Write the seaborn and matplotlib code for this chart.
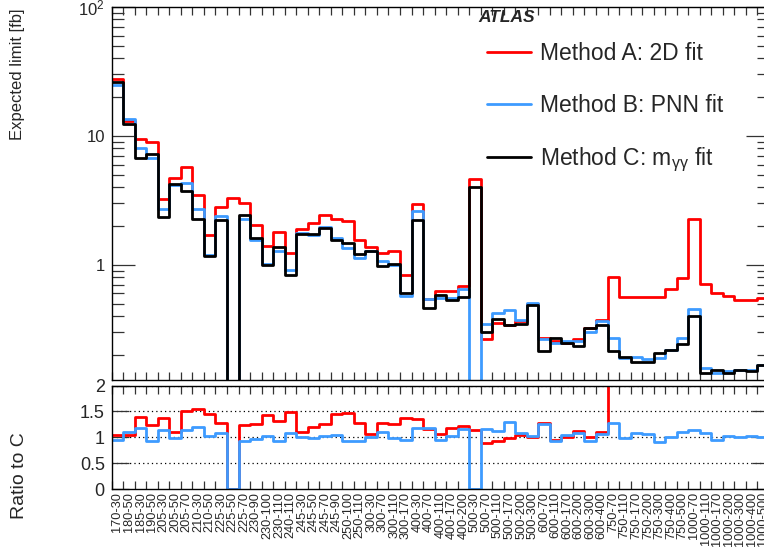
import numpy as np
import pandas as pd
import matplotlib
matplotlib.use("Agg")
import matplotlib.pyplot as plt
from matplotlib.lines import Line2D
import seaborn as sns

# (m_X - m_S) signal mass points, in GeV
mass_points = [
    "170-30", "180-50", "185-30", "190-50", "205-30", "205-50", "205-70",
    "210-30", "210-50", "225-30", "225-50", "225-70", "230-90", "230-100",
    "230-110", "240-110", "245-30", "245-50", "245-70", "245-90", "250-100",
    "250-110", "300-30", "300-70", "300-110", "300-170", "400-30", "400-70",
    "400-110", "400-170", "400-200", "500-30", "500-70", "500-110", "500-170",
    "500-200", "500-300", "600-70", "600-110", "600-170", "600-200", "600-300",
    "600-400", "750-70", "750-110", "750-170", "750-200", "750-300", "750-400",
    "750-500", "1000-70", "1000-110", "1000-170", "1000-200", "1000-300",
    "1000-400", "1000-500",
]

# Expected limits [fb]
limit_2d = [
    27.6, 12.96, 9.48, 8.98, 3.26, 4.72, 5.70, 3.50, 1.69, 2.81, 3.29, 3.02,
    2.03, 1.41, 1.79, 1.24, 1.90, 2.10, 2.42, 2.26, 2.17, 1.55, 1.37, 1.245,
    1.275, 0.828, 2.99, 0.54, 0.623, 0.629, 0.686, 4.62, 0.265, 0.355, 0.340,
    0.365, 0.496, 0.270, 0.257, 0.250, 0.265, 0.323, 0.376, 0.803, 0.562,
    0.562, 0.562, 0.562, 0.652, 0.788, 2.27, 0.709, 0.610, 0.575, 0.535,
    0.535, 0.552,
]
limit_pnn = [
    25.05, 13.60, 8.07, 6.73, 2.71, 4.17, 4.30, 2.71, 1.19, 2.41, 0.0, 2.27,
    1.55, 1.02, 1.27, 0.91, 1.76, 1.70, 1.97, 1.63, 1.35, 1.14, 1.29, 1.075,
    1.00, 0.570, 2.62, 0.545, 0.556, 0.549, 0.650, 0.0, 0.347, 0.426, 0.446,
    0.376, 0.503, 0.266, 0.248, 0.258, 0.256, 0.302, 0.364, 0.273, 0.188,
    0.192, 0.187, 0.188, 0.219, 0.271, 0.454, 0.158, 0.145, 0.150, 0.153,
    0.153, 0.168,
]
limit_myy = [
    26.4, 12.4, 6.80, 7.25, 2.37, 4.25, 3.77, 2.27, 1.17, 2.21, 0.0, 2.44,
    1.61, 0.99, 1.37, 0.836, 1.74, 1.74, 1.92, 1.56, 1.47, 1.22, 1.29, 0.98,
    1.02, 0.600, 2.21, 0.462, 0.585, 0.535, 0.562, 4.05, 0.299, 0.380, 0.343,
    0.349, 0.490, 0.213, 0.270, 0.247, 0.237, 0.323, 0.343, 0.213, 0.192,
    0.176, 0.176, 0.209, 0.219, 0.244, 0.398, 0.145, 0.153, 0.146, 0.153,
    0.149, 0.166,
]

methods = ["Method A: 2D fit", "Method B: PNN fit", r"Method C: m$_{\gamma\gamma}$ fit"]
colors = ["#ff0000", "#3d9bff", "#000000"]

sns.set_theme(style="ticks")
plt.rcParams["font.family"] = ["Liberation Sans", "DejaVu Sans"]
plt.rcParams["mathtext.default"] = "regular"
plt.rcParams["axes.linewidth"] = 1.0

W_PX, H_PX = 764, 550
fig = plt.figure(figsize=(W_PX / 100, H_PX / 100), dpi=100)


def fig_box(x0, y0, x1, y1):
    return [x0 / W_PX, 1 - y1 / H_PX, (x1 - x0) / W_PX, (y1 - y0) / H_PX]


ax = fig.add_axes(fig_box(111.7, 7, 769, 380))
axr = fig.add_axes(fig_box(111.7, 385.5, 769, 489))

n = len(mass_points)
edges = np.arange(n + 1)
centers = edges[:-1] + 0.5
LOG_FLOOR = 1e-3


def step_frame(values):
    v = np.asarray(values, float)
    return pd.DataFrame({"edge": edges, "value": np.append(v, v[-1])})


# upper panel: expected limits on a log scale
ax.set_yscale("log")
series = [limit_2d, limit_pnn, limit_myy]
for vals, col in zip(series, colors):
    v = np.where(np.asarray(vals) > 0, vals, LOG_FLOOR)
    sns.lineplot(data=step_frame(v), x="edge", y="value", ax=ax, color=col,
                 lw=2.0, drawstyle="steps-post", estimator=None, sort=False,
                 legend=False)
ax.set_xlim(0, n)
ax.set_ylim(0.128, 100)

# lower panel: ratios with respect to method C
c = np.asarray(limit_myy, float)
for vals, col in zip(series[:2], colors[:2]):
    a = np.asarray(vals, float)
    r = np.divide(a, c, out=np.zeros_like(a), where=c > 0)
    sns.lineplot(data=step_frame(r), x="edge", y="value", ax=axr, color=col,
                 lw=2.0, drawstyle="steps-post", estimator=None, sort=False,
                 legend=False)
axr.set_xlim(0, n)
axr.set_ylim(0, 2)
for yv in [0.5, 1.0, 1.5, 2.0]:
    axr.axhline(yv, color="black", lw=0.9, ls=(0, (1, 2.5)), zorder=0)

# ticks: inward on every side, ticks on bin edges, labels on bin centres
for a in (ax, axr):
    a.set_xlabel("")
    a.set_ylabel("")
    a.set_xticks(edges)
    a.set_xticklabels([])
    a.tick_params(axis="x", which="major", direction="in", top=True,
                  bottom=True, length=6, width=0.9, color="#333333")
    a.tick_params(axis="y", which="both", direction="in", left=True,
                  right=True, width=0.9, color="#333333")
    for s in a.spines.values():
        s.set_linewidth(1.0)
        s.set_color("black")

ax.set_yticks([1, 10, 100])
ax.set_yticklabels(["1", "10", r"10$^{2}$"])
ax.yaxis.set_minor_locator(matplotlib.ticker.LogLocator(base=10, subs=np.arange(2, 10)))
ax.yaxis.set_minor_formatter(matplotlib.ticker.NullFormatter())
ax.tick_params(axis="y", which="major", length=16.5, labelsize=12, pad=5)
ax.tick_params(axis="y", which="minor", length=8.5)

axr.set_yticks([0, 0.5, 1, 1.5, 2])
axr.set_yticklabels(["0", "0.5", "1", "1.5", "2"])
axr.tick_params(axis="y", which="major", length=12, labelsize=13, pad=5)
axr.yaxis.set_minor_locator(matplotlib.ticker.NullLocator())

axr.set_xticks(centers, minor=True)
axr.set_xticklabels(mass_points, minor=True, rotation=90, fontsize=9.2)
axr.tick_params(axis="x", which="minor", length=0, pad=2)

fig.text(18 / W_PX, 1 - 9 / H_PX, "Expected limit [fb]", rotation=90,
         ha="center", va="top", fontsize=12)
fig.text(20 / W_PX, 1 - 476 / H_PX, "Ratio to C", rotation=90,
         ha="center", va="center", fontsize=14)
fig.text(478 / W_PX, 1 - 18 / H_PX, "ATLAS", fontsize=12.5,
         fontweight="bold", fontstyle="italic", ha="left", va="center")

handles = [Line2D([], [], color=col, lw=2.0) for col in colors]
ax.legend(handles, methods, loc="upper left",
          bbox_to_anchor=(487 / W_PX, 1 - 42.5 / H_PX),
          bbox_transform=fig.transFigure, frameon=False, fontsize=16.5,
          handlelength=1.92, handletextpad=0.4, labelspacing=1.24,
          borderpad=0, borderaxespad=0)

fig.savefig("out.png", dpi=100)
